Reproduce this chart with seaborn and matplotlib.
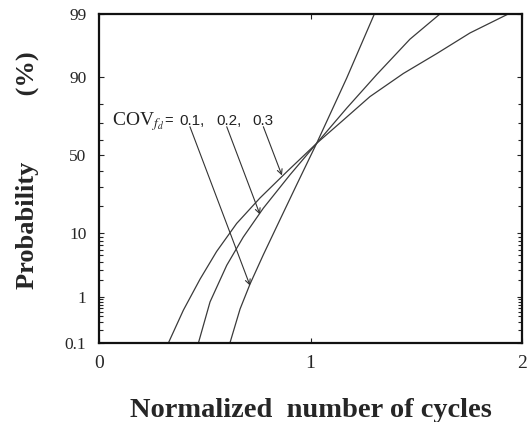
import numpy as np
import pandas as pd
import matplotlib
matplotlib.use("Agg")
import matplotlib.pyplot as plt
import seaborn as sns
from statistics import NormalDist

# Values
# x: normalized number of cycles, p: cumulative probability (%)
cov_labels = ["0.1", "0.2", "0.3"]

x_cov01 = [0.619, 0.667, 0.714, 0.777, 0.856, 0.935, 1.029, 1.171, 1.302]
p_cov01 = [0.1, 0.57, 1.70, 5.08, 14.5, 31.5, 57.8, 89.8, 99.0]

x_cov02 = [0.470, 0.525, 0.604, 0.682, 0.777, 0.903, 1.029, 1.171, 1.313, 1.470, 1.612]
p_cov02 = [0.1, 0.79, 3.51, 8.9, 19.2, 37.4, 57.8, 78.1, 90.8, 97.2, 99.0]

x_cov03 = [0.328, 0.399, 0.478, 0.556, 0.651, 0.761, 0.887, 1.029, 1.155, 1.281,
           1.439, 1.597, 1.754, 1.935]
p_cov03 = [0.1, 0.54, 2.08, 5.66, 13.1, 24.1, 39.2, 57.8, 71.9, 83.3,
           91.1, 95.3, 97.8, 99.0]

# arrows from the label to each curve
arrow_tail_x = [0.430, 0.604, 0.777]
arrow_tail_p = [68.1, 68.1, 68.1]
arrow_tip_x = [0.714, 0.761, 0.865]
arrow_tip_p = [1.6, 16.5, 37.0]

x_ticks = [0, 1, 2]
y_ticks = [0.1, 1, 10, 50, 90, 99]
y_tick_labels = ["0.1", "1", "10", "50", "90", "99"]
y_minor = [0.2, 0.3, 0.4, 0.5, 0.6, 0.7, 0.8, 0.9,
           2, 3, 4, 5, 6, 7, 8, 9, 20, 30, 40, 60, 70, 80]

df = pd.concat([
    pd.DataFrame({"x": x_cov01, "p": p_cov01, "cov": "0.1"}),
    pd.DataFrame({"x": x_cov02, "p": p_cov02, "cov": "0.2"}),
    pd.DataFrame({"x": x_cov03, "p": p_cov03, "cov": "0.3"}),
], ignore_index=True)

sns.set_theme(style="white")
plt.rcParams["font.family"] = ["Liberation Serif", "DejaVu Serif"]
plt.rcParams["mathtext.fontset"] = "stix"

# normal probability scale
nd = NormalDist()
_ppf = np.vectorize(lambda p: nd.inv_cdf(p), otypes=[float])
_cdf = np.vectorize(lambda z: nd.cdf(z) * 100.0, otypes=[float])


def prob_forward(p):
    p = np.clip(np.asarray(p, dtype=float) / 100.0, 1e-9, 1 - 1e-9)
    return _ppf(p)


def prob_inverse(z):
    return _cdf(np.asarray(z, dtype=float))


fig = plt.figure(figsize=(5.30, 4.22), dpi=100)
ax = fig.add_axes([99 / 530, 79 / 422, 423 / 530, 329 / 422])

line_col = "#3a3a3a"
for c in cov_labels:
    sub = df[df["cov"] == c]
    sns.lineplot(data=sub, x="x", y="p", sort=False, estimator=None,
                 color=line_col, linewidth=0.9, ax=ax)

ax.set_yscale("function", functions=(prob_forward, prob_inverse))
ax.set_xlim(0, 2)
ax.set_ylim(0.1, 99)

ax.set_xticks(x_ticks)
ax.set_xticklabels([str(t) for t in x_ticks])
ax.set_yticks(y_ticks)
ax.set_yticklabels(y_tick_labels)
ax.set_yticks(y_minor, minor=True)
ax.yaxis.set_minor_formatter(plt.NullFormatter())

ax.tick_params(which="both", direction="in", top=True, right=True,
               left=True, bottom=True, color="#222222", width=0.8)
ax.tick_params(which="major", length=3.8)
ax.tick_params(which="minor", length=3)
ax.tick_params(axis="x", labelsize=14, pad=9)
ax.tick_params(axis="y", labelsize=12.5, pad=9)

for s in ax.spines.values():
    s.set_linewidth(1.6)
    s.set_color("#111111")

ax.set_xlabel("Normalized  number of cycles", fontsize=20.5, fontweight="bold",
              va="baseline")
ax.xaxis.set_label_coords(0.5, -0.225)
ax.set_ylabel("Probability          (%)", fontsize=19, fontweight="bold",
              va="center")
ax.yaxis.set_label_coords(-0.17, 0.525)

# label and arrows
ax.text((111.7 - 99) / 423, 0.6626, "COV$_{f_d}$", transform=ax.transAxes,
        fontsize=14, va="baseline", ha="left", color="#222222")
ax.text((164.5 - 99) / 423, 0.6626, "=", transform=ax.transAxes,
        fontsize=10.5, va="baseline", ha="left", color="#222222",
        family="Liberation Sans")
dot_px = [190, 226.7, 263.3]
for lab, dpx in zip(cov_labels, dot_px):
    suffix = "," if lab != cov_labels[-1] else ""
    ax.text((dpx - 10.8 - 99) / 423, 0.6626, lab + suffix, transform=ax.transAxes,
            fontsize=11, va="baseline", ha="left", color="#222222",
            family="Liberation Sans")

for tx, tp, hx, hp in zip(arrow_tail_x, arrow_tail_p, arrow_tip_x, arrow_tip_p):
    ax.annotate("", xy=(hx, hp), xytext=(tx, tp),
                arrowprops=dict(arrowstyle="->", lw=0.8, color="#333333",
                                shrinkA=0, shrinkB=0, mutation_scale=9))

fig.savefig("out.png", dpi=100)
